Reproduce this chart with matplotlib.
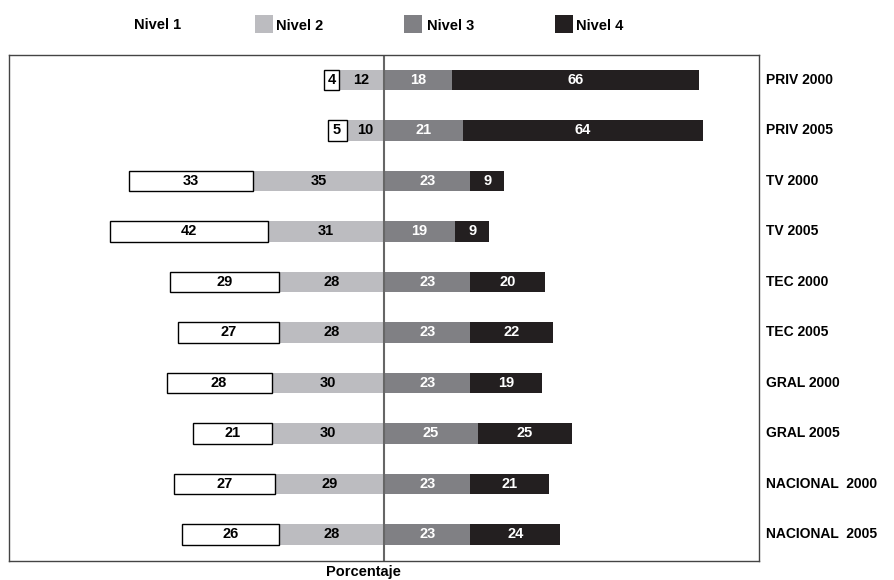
import matplotlib
matplotlib.use('Agg')
import matplotlib.pyplot as plt
from matplotlib.patches import Rectangle
import numpy as np

plt.rcParams['font.family'] = ['Liberation Sans', 'DejaVu Sans']
plt.rcParams['font.weight'] = 'bold'

# datos
grupos = ['PRIV 2000', 'PRIV 2005', 'TV 2000', 'TV 2005', 'TEC 2000', 'TEC 2005',
          'GRAL 2000', 'GRAL 2005', 'NACIONAL  2000', 'NACIONAL  2005']
nivel1 = [4, 5, 33, 42, 29, 27, 28, 21, 27, 26]
nivel2 = [12, 10, 35, 31, 28, 28, 30, 30, 29, 28]
nivel3 = [18, 21, 23, 19, 23, 23, 23, 25, 23, 23]
nivel4 = [66, 64, 9, 9, 20, 22, 19, 25, 21, 24]
niveles = ['Nivel 1', 'Nivel 2', 'Nivel 3', 'Nivel 4']

c_blanco = 'white'
c_claro = '#bcbcc0'
c_medio = '#808084'
c_oscuro = '#231f20'

fig = plt.figure(figsize=(8.94, 5.8), dpi=100)
ax = fig.add_axes([9/894, 19/580, 750/894, 506/580])

y = np.arange(len(grupos))
n1 = np.array(nivel1)
n2 = np.array(nivel2)
n3 = np.array(nivel3)
n4 = np.array(nivel4)
h = 0.41

ax.barh(y, -n2, height=h, color=c_claro, edgecolor='none')
ax.barh(y, -n1, left=-n2, height=h, color=c_blanco, edgecolor='black', linewidth=1)
ax.barh(y, n3, height=h, color=c_medio, edgecolor='none')
ax.barh(y, n4, left=n3, height=h, color=c_oscuro, edgecolor='none')

fs = 10.5
for i in range(len(grupos)):
    ax.text(-n2[i] - n1[i] / 2, i, str(n1[i]), ha='center', va='center', fontsize=fs, color='black')
    ax.text(-n2[i] / 2, i, str(n2[i]), ha='center', va='center', fontsize=fs, color='black')
    ax.text(n3[i] / 2, i, str(n3[i]), ha='center', va='center', fontsize=fs, color='white')
    ax.text(n3[i] + n4[i] / 2, i, str(n4[i]), ha='center', va='center', fontsize=fs, color='white')
    ax.text(102, i, grupos[i], ha='left', va='center', fontsize=10, color='black', clip_on=False)

ax.axvline(0, color='#666666', linewidth=1.5)

ax.set_xlim(-100, 100)
ax.set_ylim(9.525, -0.495)
ax.set_xticks([])
ax.set_yticks([])
for s in ax.spines.values():
    s.set_color('#444444')
    s.set_linewidth(1)

# leyenda manual
fig.text(134/894, 1 - 25/580, niveles[0], ha='left', va='center', fontsize=10.5)
leg = [(255, 276, c_claro), (404, 427, c_medio), (555, 576, c_oscuro)]
for k, (px, tx, col) in enumerate(leg):
    fig.patches.append(Rectangle((px/894, 1 - 33/580), 18/894, 18/580,
                                 transform=fig.transFigure, facecolor=col, edgecolor='none'))
    fig.text(tx/894, 1 - 26/580, niveles[k + 1], ha='left', va='center', fontsize=10.5)

fig.text(363/894, 1 - 572/580, 'Porcentaje', ha='center', va='center', fontsize=10.5)

fig.savefig('out.png', dpi=100)
